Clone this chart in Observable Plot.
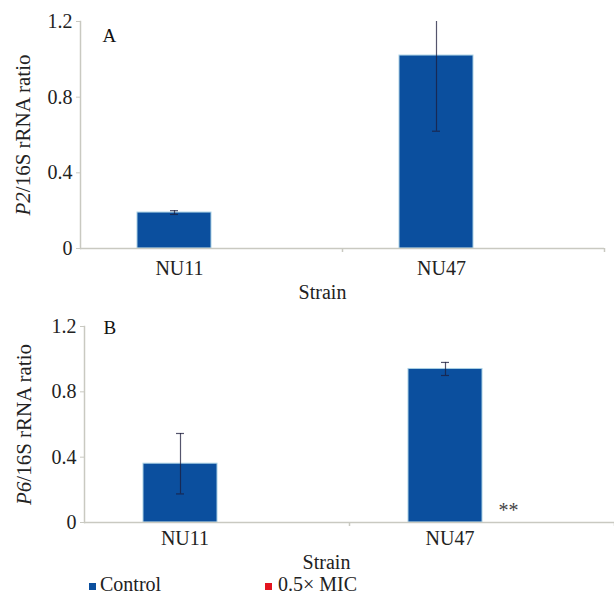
<!DOCTYPE html>
<html><head><meta charset="utf-8">
<script src="https://cdn.jsdelivr.net/npm/d3@7"></script>
<script src="https://cdn.jsdelivr.net/npm/@observablehq/plot@0.6"></script>
<style>
body{margin:0;background:#fff;}
#wrap{position:relative;width:614px;height:596px;font-family:"Liberation Serif",serif;color:#222;}
#wrap svg{display:block;}
#wrap svg, #wrap svg text{font-family:"Liberation Serif",serif !important;}
#legend{position:absolute;left:0;top:572px;width:614px;height:24px;font-size:20px;line-height:24px;font-family:"Liberation Serif",serif;}
.item{position:absolute;top:0;white-space:nowrap;font-family:"Liberation Serif",serif;}
.sw{display:inline-block;width:7px;height:7px;margin-right:4px;vertical-align:1px;}
</style></head><body><div id="wrap"><div id="legend"></div></div>
<script>
// ---- data ----
const strains = ["NU11", "NU47"];
const series = ["Control", "0.5× MIC"];
const seriesColors = ["#0b4f9e", "#e3141f"];
const yTicks = [0, 0.4, 0.8, 1.2];
const xLabel = "Strain";

const p2Letter = "A";
const p2Gene = "P2";
const p2LabelRest = "/16S rRNA ratio";
const p2Control = [0.19, 1.02];
const p2ControlErr = [0.01, 0.40];
const p2Mic = [0, 0];
const p2MicErr = [0, 0];
const p2MicSig = ["", ""];

const p6Letter = "B";
const p6Gene = "P6";
const p6LabelRest = "/16S rRNA ratio";
const p6Control = [0.36, 0.94];
const p6ControlErr = [0.185, 0.04];
const p6Mic = [0, 0];
const p6MicErr = [0, 0];
const p6MicSig = ["", "**"];

function rowsOf(ctrl, ctrlErr, mic, micErr, sig) {
  const rows = [];
  strains.forEach((s, i) => {
    rows.push({strain: s, series: series[0], value: ctrl[i], err: ctrlErr[i], sig: ""});
    rows.push({strain: s, series: series[1], value: mic[i], err: micErr[i], sig: sig[i]});
  });
  return rows;
}

const AX = "#c9c9c1";
const FONT = "Liberation Serif";
const fmt = d => d === 0 ? "0" : d3.format(".1f")(d);

function panel(o) {
  const rows = o.rows;
  const errRows = rows.filter(d => d.err > 0);
  const svg = Plot.plot({
    width: 614, height: o.height,
    marginTop: 21, marginBottom: o.marginBottom, marginLeft: o.marginLeft, marginRight: o.marginRight,
    style: {fontFamily: FONT, fontSize: "20px", color: "#222", background: "#fff", overflow: "visible"},
    fx: {domain: strains, padding: 0, axis: null},
    x: {domain: series, paddingInner: 0, paddingOuter: 0.77, axis: null},
    y: {domain: [0, 1.2], axis: null},
    color: {domain: series, range: seriesColors},
    marks: [
      Plot.barY(rows, {fx: "strain", x: "series", y: "value", fill: "series"}),
      Plot.barY(rows.filter(d => d.value > 0), {fx: "strain", x: "series", y: "value", fill: "none", stroke: "#a9d0e4", strokeWidth: 1}),
      Plot.ruleY([0], {stroke: AX, strokeWidth: 1.5}),
      Plot.frame({anchor: "left", stroke: AX, strokeWidth: 1.5, facetAnchor: "left"}),
      Plot.ruleX(strains.map(s => ({strain: s})), {fx: "strain", x: () => series[1], y1: 0, y2: 0, insetTop: 4, dx: o.edgeDx, stroke: AX, strokeWidth: 1.5}),
      Plot.ruleX(errRows, {fx: "strain", x: "series", y1: d => d.value - d.err, y2: d => d.value + d.err, stroke: "#1c1c3c", strokeOpacity: 0.75, strokeWidth: 1.2, clip: true}),
      Plot.tickY(errRows, {fx: "strain", x: "series", y: d => d.value + d.err, insetLeft: 33, insetRight: 33, stroke: "#1c1c3c", strokeOpacity: 0.75, strokeWidth: 1.2, clip: true}),
      Plot.tickY(errRows, {fx: "strain", x: "series", y: d => d.value - d.err, insetLeft: 33, insetRight: 33, stroke: "#1c1c3c", strokeOpacity: 0.75, strokeWidth: 1.2, clip: true}),
      Plot.axisY({ticks: yTicks, tickFormat: fmt, tickSize: 4, tickPadding: 4, stroke: AX, fill: "#222", fontSize: 20, fontFamily: FONT, label: null}),
      Plot.axisFx({anchor: "bottom", tickSize: 0, tickPadding: o.fxPad, dx: -32, fontSize: 20, fontFamily: FONT, label: null, fill: "#222"}),
      Plot.text(rows.filter(d => d.sig), {fx: "strain", x: "series", y: 0, text: "sig", lineAnchor: "bottom", dx: -11, dy: -6, fontSize: 20, fontFamily: FONT, fill: "#444"}),
      Plot.text([{strain: strains[0], label: o.letter}], {fx: "strain", text: "label", frameAnchor: "top-left", textAnchor: "start", lineAnchor: "top", dx: o.letterDx, dy: o.letterDy, fontSize: 19, fontFamily: FONT, fill: "#111"}),
      Plot.text([{strain: strains[0], label: o.gene + o.rest}], {fx: "strain", text: "label", frameAnchor: "left", rotate: -90, textAnchor: "middle", lineAnchor: "bottom", dx: o.ylabDx, fontSize: 21, fontFamily: FONT, fill: "#222"}),
      Plot.text([xLabel], {facet: "super", frameAnchor: "bottom", lineAnchor: "bottom", dx: o.xlabDx, dy: o.xlabDy, fontSize: 20, fontFamily: FONT, fill: "#222"})
    ]
  });
  // italicize the gene name in the y label
  svg.querySelectorAll("text").forEach(t => {
    if (t.textContent === o.gene + o.rest) {
      t.textContent = "";
      const a = document.createElementNS("http://www.w3.org/2000/svg", "tspan");
      a.setAttribute("font-style", "italic");
      a.textContent = o.gene;
      const b = document.createElementNS("http://www.w3.org/2000/svg", "tspan");
      b.textContent = o.rest;
      t.appendChild(a); t.appendChild(b);
    }
  });
  return svg;
}

const wrap = document.getElementById("wrap");
const legend = document.getElementById("legend");
wrap.insertBefore(panel({
  rows: rowsOf(p2Control, p2ControlErr, p2Mic, p2MicErr, p2MicSig),
  height: 305, marginBottom: 57, marginLeft: 80, marginRight: 10,
  edgeDx: 94, fxPad: 12, letter: p2Letter, letterDx: 22, letterDy: 7,
  gene: p2Gene, rest: p2LabelRest, ylabDx: -51, xlabDx: -20, xlabDy: 50
}), legend);
wrap.insertBefore(panel({
  rows: rowsOf(p6Control, p6ControlErr, p6Mic, p6MicErr, p6MicSig),
  height: 270, marginBottom: 53, marginLeft: 83, marginRight: 0,
  edgeDx: 95, fxPad: 8, letter: p6Letter, letterDx: 19, letterDy: -6,
  gene: p6Gene, rest: p6LabelRest, ylabDx: -54, xlabDx: -23, xlabDy: 46
}), legend);

const legendX = [89, 265];
series.forEach((s, i) => {
  const it = document.createElement("div");
  it.className = "item";
  it.style.left = legendX[i] + "px";
  const sw = document.createElement("span");
  sw.className = "sw";
  sw.style.background = seriesColors[i];
  if (i === 1) sw.style.marginRight = "6px";
  it.appendChild(sw);
  it.appendChild(document.createTextNode(s));
  legend.appendChild(it);
});
</script></body></html>
